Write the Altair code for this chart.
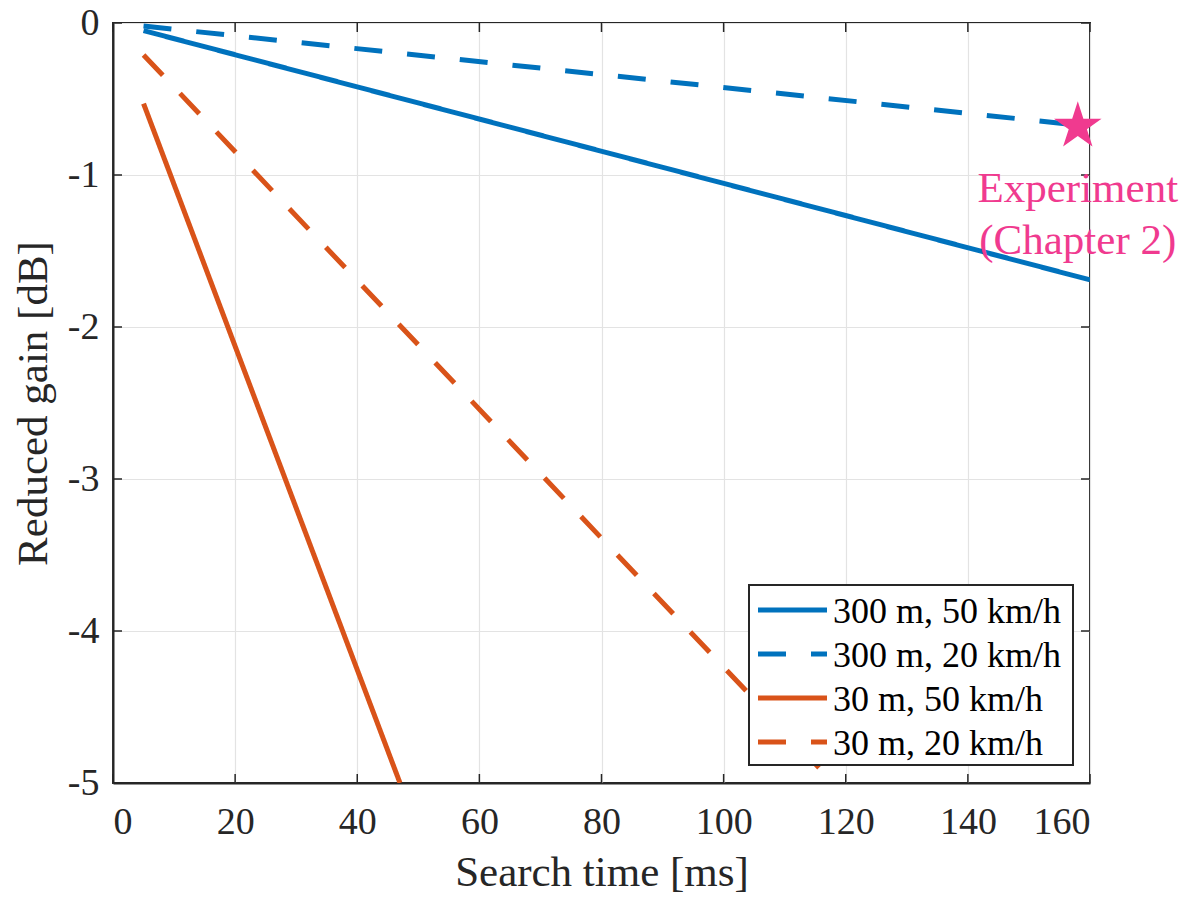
import altair as alt
import pandas as pd

# Reduced gain vs. search time for two beam widths (300 m / 30 m) and two speeds
series = ["300 m, 50 km/h", "300 m, 20 km/h", "30 m, 50 km/h", "30 m, 20 km/h"]
colors = ["#0072BD", "#0072BD", "#D95319", "#D95319"]
dashes = [[1, 0], [28, 25], [1, 0], [28, 25]]
time_start = [5, 5, 5, 5]
gain_start = [-0.05, -0.02, -0.53, -0.21]
time_end = [160, 160, 47, 118]
gain_end = [-1.69, -0.68, -5.0, -5.0]

# Experimental point
exp_time = [158]
exp_gain = [-0.68]
exp_label = ["Experiment\n(Chapter 2)"]

x_ticks = [0, 20, 40, 60, 80, 100, 120, 140, 160]
y_ticks = [0, -1, -2, -3, -4, -5]

W, H = 977, 760
FONT = "Liberation Serif"
AXIS_COLOR = "#262626"
PINK = "#F03A8F"

rows = []
for i, s in enumerate(series):
    rows.append({"series": s, "order": 0, "time": time_start[i], "gain": gain_start[i]})
    rows.append({"series": s, "order": 1, "time": time_end[i], "gain": gain_end[i]})
lines_df = pd.DataFrame(rows)
exp_df = pd.DataFrame({"time": exp_time, "gain": exp_gain, "label": exp_label})
xt_df = pd.DataFrame({"t": x_ticks})
yt_df = pd.DataFrame({"g": y_ticks})
leg_df = pd.DataFrame({"series": series, "row": list(range(len(series)))})

x_scale = alt.Scale(domain=[0, 160], nice=False)
y_scale = alt.Scale(domain=[-5, 0], nice=False)
color_scale = alt.Scale(domain=series, range=colors)
dash_scale = alt.Scale(domain=series, range=dashes)

x_axis = alt.Axis(
    values=x_ticks, title="Search time [ms]", labelExpr="'' + datum.value",
    ticks=False, labelPadding=20, titlePadding=10,
)
y_axis = alt.Axis(
    values=y_ticks, title="Reduced gain [dB]", labelExpr="'' + datum.value",
    ticks=False, labelPadding=14, titlePadding=12,
)

lines = alt.Chart(lines_df).mark_line(strokeWidth=5, clip=True).encode(
    x=alt.X("time:Q", scale=x_scale, axis=x_axis),
    y=alt.Y("gain:Q", scale=y_scale, axis=y_axis),
    color=alt.Color("series:N", scale=color_scale, legend=None),
    strokeDash=alt.StrokeDash("series:N", scale=dash_scale, legend=None),
    order="order:Q",
    detail="series:N",
)

# Inward tick marks on all four sides of the box
tick_len = 9
top_ticks = alt.Chart(xt_df).mark_rule(color=AXIS_COLOR, strokeWidth=1.5).encode(
    x=alt.X("t:Q", scale=x_scale), y=alt.value(0), y2=alt.value(tick_len))
bottom_ticks = alt.Chart(xt_df).mark_rule(color=AXIS_COLOR, strokeWidth=1.5).encode(
    x=alt.X("t:Q", scale=x_scale), y=alt.value(H - tick_len), y2=alt.value(H))
left_ticks = alt.Chart(yt_df).mark_rule(color=AXIS_COLOR, strokeWidth=1.5).encode(
    y=alt.Y("g:Q", scale=y_scale), x=alt.value(0), x2=alt.value(tick_len))
right_ticks = alt.Chart(yt_df).mark_rule(color=AXIS_COLOR, strokeWidth=1.5).encode(
    y=alt.Y("g:Q", scale=y_scale), x=alt.value(W - tick_len), x2=alt.value(W))

# Boxed legend in the lower-right corner
LEG_LEFT, LEG_RIGHT, LEG_TOP, LEG_BOTTOM = 636, 960, 562, 742
ROW0, ROW_STEP = 587, 44
legend_box = alt.Chart(leg_df).mark_rect(
    fill="white", stroke=AXIS_COLOR, strokeWidth=2
).encode(
    x=alt.value(LEG_LEFT), x2=alt.value(LEG_RIGHT),
    y=alt.value(LEG_TOP), y2=alt.value(LEG_BOTTOM),
)
legend_base = alt.Chart(leg_df).transform_calculate(
    py=f"{ROW0} + datum.row * {ROW_STEP}"
)
legend_lines = legend_base.mark_rule(strokeWidth=5).encode(
    x=alt.value(LEG_LEFT + 9), x2=alt.value(LEG_LEFT + 78),
    y=alt.Y("py:Q", scale=None, axis=None),
    color=alt.Color("series:N", scale=color_scale, legend=None),
    strokeDash=alt.StrokeDash("series:N", scale=dash_scale, legend=None),
)
legend_text = legend_base.mark_text(
    font=FONT, fontSize=36, color="black", align="left", baseline="middle", dy=2,
).encode(
    x=alt.value(LEG_LEFT + 84),
    y=alt.Y("py:Q", scale=None, axis=None),
    text="series:N",
)

star_path = ("M0,-1L0.2245,-0.309L0.951,-0.309L0.363,0.118L0.588,0.809L0,0.382"
             "L-0.588,0.809L-0.363,0.118L-0.951,-0.309L-0.2245,-0.309Z")
star = alt.Chart(exp_df).mark_point(
    shape=star_path, size=2500, filled=True, color=PINK, opacity=1, strokeWidth=0
).encode(x=alt.X("time:Q", scale=x_scale), y=alt.Y("gain:Q", scale=y_scale))

star_text = alt.Chart(exp_df).mark_text(
    font=FONT, fontSize=43, color=PINK, align="center", baseline="alphabetic",
    dy=76, lineBreak="\n", lineHeight=52,
).encode(x=alt.X("time:Q", scale=x_scale), y=alt.Y("gain:Q", scale=y_scale), text="label:N")

chart = alt.layer(
    lines, top_ticks, bottom_ticks, left_ticks, right_ticks,
    legend_box, legend_lines, legend_text, star, star_text
).properties(
    width=W, height=H,
    autosize=alt.AutoSizeParams(type="none"),
    padding={"left": 113, "top": 23, "right": 98, "bottom": 118},
    background="white",
).configure_view(
    stroke=AXIS_COLOR, strokeWidth=2,
).configure_axis(
    labelFont=FONT, labelFontSize=38, labelColor="#262626",
    titleFont=FONT, titleFontSize=43, titleColor="#262626", titleFontWeight="normal",
    domainColor=AXIS_COLOR, domainWidth=2,
    gridColor="#E3E3E3", gridWidth=1.2,
)

chart.save("out.html", embed_options={"renderer": "svg", "actions": False})
